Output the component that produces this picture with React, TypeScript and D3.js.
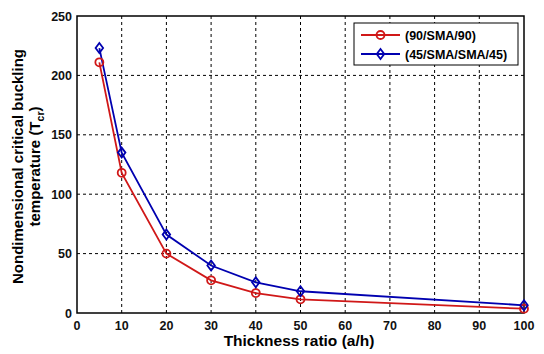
import React, { useEffect, useRef } from "react";
import * as d3 from "d3";

// thickness ratio a/h
const ratios = [5, 10, 20, 30, 40, 50, 100];
// (90/SMA/90)
const series90 = [211, 118, 50, 27.5, 16.8, 11.5, 3.6];
// (45/SMA/SMA/45)
const series45 = [223, 135, 66, 40, 25.8, 18.3, 6.5];
const xTicks = [0, 10, 20, 30, 40, 50, 60, 70, 80, 90, 100];
const yTicks = [0, 50, 100, 150, 200, 250];
const seriesNames = ["(90/SMA/90)", "(45/SMA/SMA/45)"];

export default function App() {
  const ref = useRef<SVGSVGElement>(null);

  useEffect(() => {
    const width = 544;
    const height = 354;
    const left = 77, right = 524, top = 16, bottom = 313;
    const font = "'Liberation Sans', Arial, sans-serif";

    const svg = d3.select(ref.current);
    svg.selectAll("*").remove();

    svg.append("rect").attr("width", width).attr("height", height).attr("fill", "#fff");

    const x = d3.scaleLinear().domain([0, 100]).range([left, right]);
    const y = d3.scaleLinear().domain([0, 250]).range([bottom, top]);

    // grid
    const grid = svg.append("g");
    xTicks.slice(1, -1).forEach(t => {
      grid.append("line")
        .attr("x1", x(t)).attr("x2", x(t))
        .attr("y1", top).attr("y2", bottom)
        .attr("stroke", "#000").attr("stroke-width", 1)
        .attr("stroke-dasharray", "3,3");
    });
    yTicks.slice(1, -1).forEach(t => {
      grid.append("line")
        .attr("x1", left).attr("x2", right)
        .attr("y1", y(t)).attr("y2", y(t))
        .attr("stroke", "#000").attr("stroke-width", 1)
        .attr("stroke-dasharray", "3,3");
    });

    // frame
    svg.append("rect")
      .attr("x", left).attr("y", top)
      .attr("width", right - left).attr("height", bottom - top)
      .attr("fill", "none").attr("stroke", "#000").attr("stroke-width", 1.5);

    // tick labels
    xTicks.forEach(t => {
      svg.append("text")
        .attr("x", x(t)).attr("y", bottom + 17)
        .attr("text-anchor", "middle")
        .attr("font-family", font).attr("font-weight", "bold").attr("font-size", 12.5)
        .attr("fill", "#111")
        .text(t);
    });
    yTicks.forEach(t => {
      svg.append("text")
        .attr("x", left - 5).attr("y", y(t) + 4.5)
        .attr("text-anchor", "end")
        .attr("font-family", font).attr("font-weight", "bold").attr("font-size", 12.5)
        .attr("fill", "#111")
        .text(t);
    });

    // axis titles
    svg.append("text")
      .attr("x", 299).attr("y", 346)
      .attr("text-anchor", "middle")
      .attr("font-family", font).attr("font-weight", "bold").attr("font-size", 15.5)
      .attr("fill", "#000")
      .text("Thickness ratio (a/h)");

    const yTitle = svg.append("text")
      .attr("transform", "translate(23," + ((top + bottom) / 2 + 2) + ") rotate(-90)")
      .attr("text-anchor", "middle")
      .attr("font-family", font).attr("font-weight", "bold").attr("font-size", 15)
      .attr("fill", "#000");
    yTitle.append("tspan").attr("x", 0).attr("y", 0).text("Nondimensional critical buckling");
    const l2 = yTitle.append("tspan").attr("x", 0).attr("y", 17);
    l2.append("tspan").text("temperature (T");
    l2.append("tspan").attr("font-size", 10.5).attr("dy", 4).text("cr");
    l2.append("tspan").attr("dy", -4).text(")");

    const line = d3.line<number>()
      .x((d, i) => x(ratios[i]))
      .y(d => y(d));

    const red = "#d01818";
    const blue = "#0000b0";

    const drawCircle = (g: any, cx: number, cy: number) => {
      g.append("circle").attr("cx", cx).attr("cy", cy).attr("r", 4)
        .attr("fill", "none").attr("stroke", red).attr("stroke-width", 1.8);
    };
    const drawDiamond = (g: any, cx: number, cy: number) => {
      const s = 5;
      g.append("path")
        .attr("d", `M${cx},${cy - s}L${cx + s * 0.75},${cy}L${cx},${cy + s}L${cx - s * 0.75},${cy}Z`)
        .attr("fill", "none").attr("stroke", blue).attr("stroke-width", 1.8);
    };

    const plot = svg.append("g");
    plot.append("path").datum(series45).attr("d", line)
      .attr("fill", "none").attr("stroke", blue).attr("stroke-width", 1.8);
    plot.append("path").datum(series90).attr("d", line)
      .attr("fill", "none").attr("stroke", red).attr("stroke-width", 1.8);
    series90.forEach((v, i) => drawCircle(plot, x(ratios[i]), y(v)));
    series45.forEach((v, i) => drawDiamond(plot, x(ratios[i]), y(v)));

    // legend
    const lg = svg.append("g");
    lg.append("rect")
      .attr("x", 354).attr("y", 23).attr("width", 164).attr("height", 42)
      .attr("fill", "#fff").attr("stroke", "#000").attr("stroke-width", 1);
    const rows = [35, 54];
    [red, blue].forEach((c, i) => {
      lg.append("line")
        .attr("x1", 361).attr("x2", 400).attr("y1", rows[i]).attr("y2", rows[i])
        .attr("stroke", c).attr("stroke-width", 1.8);
      if (i === 0) drawCircle(lg, 380.5, rows[i]);
      else drawDiamond(lg, 380.5, rows[i]);
      lg.append("text")
        .attr("x", 405).attr("y", rows[i] + 4.5)
        .attr("font-family", font).attr("font-weight", "bold").attr("font-size", 12.5)
        .attr("fill", "#000")
        .text(seriesNames[i]);
    });
  }, []);

  return (
    <svg ref={ref} width={544} height={354}
      style={{ position: "absolute", left: 0, top: 0, display: "block" }} />
  );
}
